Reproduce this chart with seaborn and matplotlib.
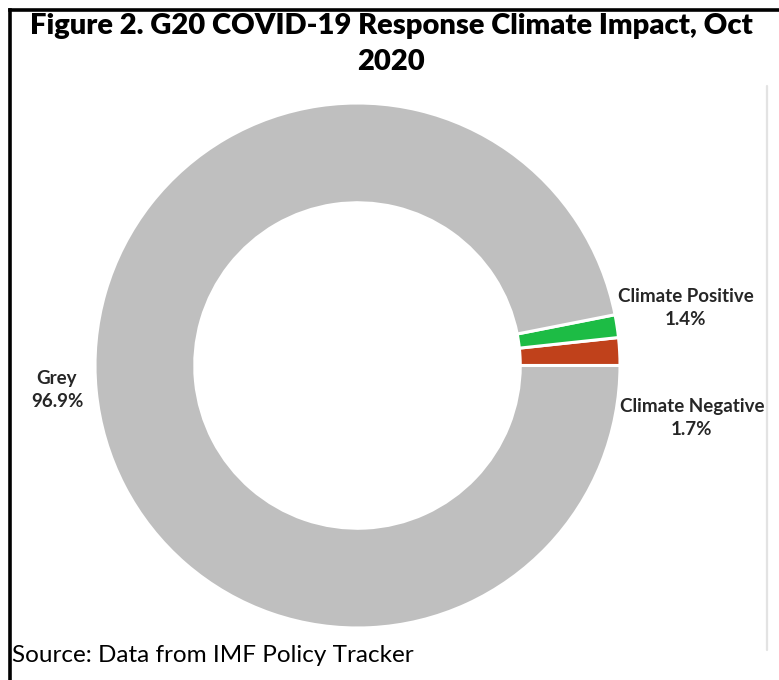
import matplotlib
matplotlib.use("Agg")
import matplotlib.pyplot as plt
from matplotlib.lines import Line2D
import seaborn as sns

# Shares of G20 COVID-19 response spending by climate impact (%)
categories = ["Climate Negative", "Climate Positive", "Grey"]
shares = [1.7, 1.4, 96.9]
colors = ["#C0411B", "#1DBC45", "#BFBFBF"]

title = "Figure 2. G20 COVID-19 Response Climate Impact, Oct\n2020"
source = "Source: Data from IMF Policy Tracker"

sns.set_theme(style="white")
plt.rcParams["font.family"] = ["Lato", "DejaVu Sans"]

W, H = 779, 680
fig = plt.figure(figsize=(W / 100, H / 100), dpi=100)
fig.patch.set_facecolor("white")

# donut axes: centre (357.5, 365.5) px, outer radius 262.5 px
cx, cy, r = 357.5, 365.5, 262.5
ax = fig.add_axes([(cx - r) / W, 1 - (cy + r) / H, 2 * r / W, 2 * r / H])
wedges, _ = ax.pie(
    shares,
    colors=colors,
    startangle=0,
    counterclock=True,
    radius=1.0,
    wedgeprops=dict(width=0.38, edgecolor="white", linewidth=2.2),
)
ax.set_xlim(-1, 1)
ax.set_ylim(-1, 1)
ax.set_aspect("equal")
ax.axis("off")

# category labels with their shares
label_pos = {
    "Climate Negative": (1.274, -0.20),
    "Climate Positive": (1.251, 0.219),
    "Grey": (-1.145, -0.093),
}
for name, val in zip(categories, shares):
    x, y = label_pos[name]
    ax.text(x, y, f"{name}\n{val}%", ha="center", va="center",
            fontsize=13.5, fontweight="bold", color="#262626",
            linespacing=1.45, clip_on=False)

fig.text(391 / W, 1 - 44 / H, title, ha="center", va="center",
         fontsize=21, fontweight="heavy", color="black", linespacing=1.45)
fig.text(12 / W, 1 - 656 / H, source, ha="left", va="center",
         fontsize=17.5, color="black")

# frame lines and right-hand divider
fig.add_artist(Line2D([10 / W, 10 / W], [0, 1 - 10 / H], transform=fig.transFigure,
                      color="black", linewidth=2.6, solid_capstyle="projecting"))
fig.add_artist(Line2D([10 / W, 1], [1 - 10 / H, 1 - 10 / H], transform=fig.transFigure,
                      color="black", linewidth=2.6, solid_capstyle="projecting"))
fig.add_artist(Line2D([767 / W, 767 / W], [1 - 650 / H, 1 - 86 / H], transform=fig.transFigure,
                      color="#E3E3E3", linewidth=1.6))

fig.savefig("out.png", dpi=100, facecolor="white")
